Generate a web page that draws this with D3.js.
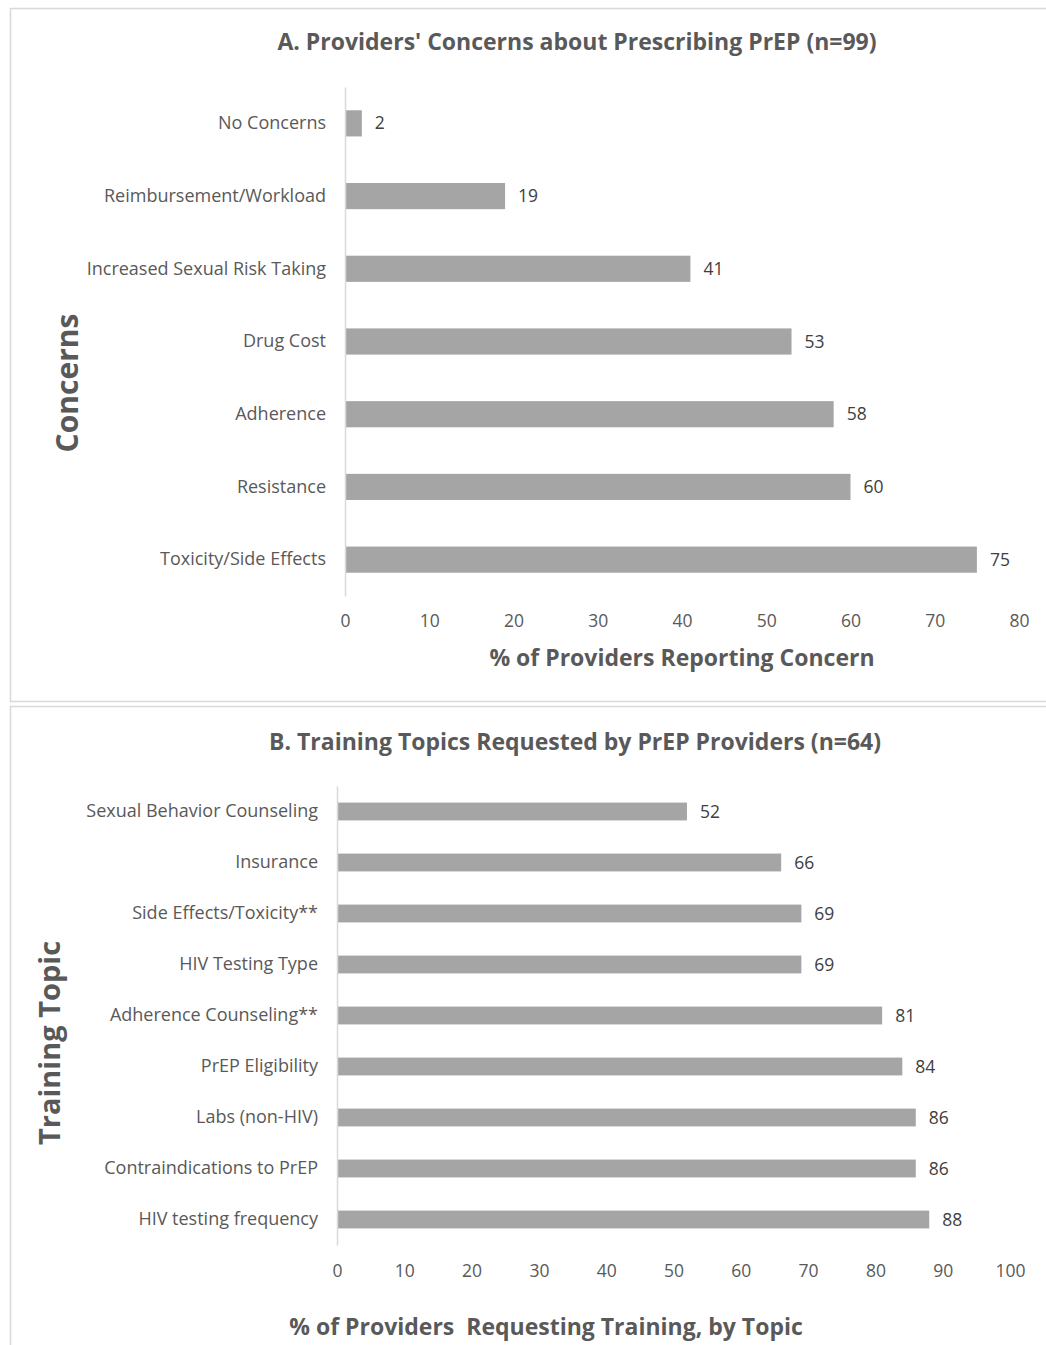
<!DOCTYPE html>
<head>
    <meta charset="utf-8">
    <script src="https://d3js.org/d3.v7.min.js"></script>
    <style>
      body { margin: 0; background: #fff; }
      text { font-family: "Open Sans", "Noto Sans", sans-serif; white-space: pre; }
    </style>
</head>

<body>
    <div id="chart"></div>
</body>

<script>

  // Panel A data
  const concernCats = ["No Concerns", "Reimbursement/Workload", "Increased Sexual Risk Taking",
    "Drug Cost", "Adherence", "Resistance", "Toxicity/Side Effects"];
  const concernVals = [2, 19, 41, 53, 58, 60, 75];
  const concernTicks = [0, 10, 20, 30, 40, 50, 60, 70, 80];

  // Panel B data
  const topicCats = ["Sexual Behavior Counseling", "Insurance", "Side Effects/Toxicity**",
    "HIV Testing Type", "Adherence Counseling**", "PrEP Eligibility", "Labs (non-HIV)",
    "Contraindications to PrEP", "HIV testing frequency"];
  const topicVals = [52, 66, 69, 69, 81, 84, 86, 86, 88];
  const topicTicks = [0, 10, 20, 30, 40, 50, 60, 70, 80, 90, 100];

  const W = 1046, H = 1345;
  const svg = d3.select("#chart").append("svg")
    .attr("width", W)
    .attr("height", H);

  // panel frames
  svg.append("rect").attr("x", 10.5).attr("y", 8.5).attr("width", 1040).attr("height", 693)
    .attr("fill", "none").attr("stroke", "#d9d9d9").attr("stroke-width", 1.5);
  svg.append("rect").attr("x", 10.5).attr("y", 706.5).attr("width", 1040).attr("height", 645)
    .attr("fill", "none").attr("stroke", "#d9d9d9").attr("stroke-width", 1.5);

  function drawPanel(cfg) {
    const g = svg.append("g");

    const x = d3.scaleLinear()
      .domain([0, d3.max(cfg.ticks)])
      .range([cfg.x0, cfg.x1]);

    const y = d3.scaleBand()
      .domain(cfg.cats)
      .range([cfg.y0, cfg.y1])
      .paddingInner(cfg.pad)
      .paddingOuter(cfg.pad / 2);

    // bars
    g.selectAll("rect.bar")
      .data(cfg.vals)
      .join("rect")
      .attr("class", "bar")
      .attr("x", x(0))
      .attr("y", (d, i) => y(cfg.cats[i]))
      .attr("width", d => x(d) - x(0))
      .attr("height", y.bandwidth())
      .attr("fill", "#a5a5a5");

    // value labels
    g.selectAll("text.val")
      .data(cfg.vals)
      .join("text")
      .attr("class", "val")
      .attr("x", d => x(d) + 13)
      .attr("y", (d, i) => y(cfg.cats[i]) + y.bandwidth() / 2)
      .attr("dy", "0.35em")
      .attr("font-size", 17.5)
      .attr("fill", "#404040")
      .text(d => d);

    // y axis
    const yAxis = g.append("g")
      .attr("transform", `translate(${cfg.x0},0)`)
      .call(d3.axisLeft(y).tickSize(0).tickPadding(19));
    yAxis.select(".domain").attr("stroke", "#d9d9d9").attr("stroke-width", 1.5);
    yAxis.selectAll("text").attr("font-size", 18).attr("fill", "#595959");

    // x axis (labels only)
    const xAxis = g.append("g")
      .attr("transform", `translate(0,${cfg.tickY})`)
      .call(d3.axisBottom(x).tickValues(cfg.ticks).tickSize(0).tickPadding(0));
    xAxis.select(".domain").remove();
    xAxis.selectAll("text").attr("font-size", 17.5).attr("fill", "#595959");

    // titles
    g.append("text")
      .attr("x", cfg.titleX).attr("y", cfg.titleY)
      .attr("text-anchor", "middle")
      .attr("font-size", 23).attr("font-weight", "bold").attr("fill", "#595959")
      .text(cfg.title);

    g.append("text")
      .attr("x", cfg.xLabelX).attr("y", cfg.xLabelY)
      .attr("text-anchor", "middle")
      .attr("font-size", 23).attr("font-weight", "bold").attr("fill", "#595959")
      .text(cfg.xLabel);

    g.append("text")
      .attr("transform", `translate(${cfg.yLabelX},${cfg.yLabelY}) rotate(-90)`)
      .attr("text-anchor", "middle")
      .attr("font-size", cfg.yLabelSize).attr("font-weight", "bold").attr("fill", "#595959")
      .text(cfg.yLabel);
  }

  drawPanel({
    cats: concernCats, vals: concernVals, ticks: concernTicks,
    x0: 345, x1: 1019, y0: 87, y1: 596, pad: 0.64, tickY: 615,
    title: "A. Providers' Concerns about Prescribing PrEP (n=99)", titleX: 577, titleY: 50,
    xLabel: "% of Providers Reporting Concern", xLabelX: 682, xLabelY: 666,
    yLabel: "Concerns", yLabelX: 78, yLabelY: 383, yLabelSize: 30
  });

  drawPanel({
    cats: topicCats, vals: topicVals, ticks: topicTicks,
    x0: 337, x1: 1010, y0: 786, y1: 1245, pad: 0.65, tickY: 1265,
    title: "B. Training Topics Requested by PrEP Providers (n=64)", titleX: 575, titleY: 750,
    xLabel: "% of Providers  Requesting Training, by Topic", xLabelX: 546, xLabelY: 1335,
    yLabel: "Training Topic", yLabelX: 60, yLabelY: 1043, yLabelSize: 29
  });

</script>
